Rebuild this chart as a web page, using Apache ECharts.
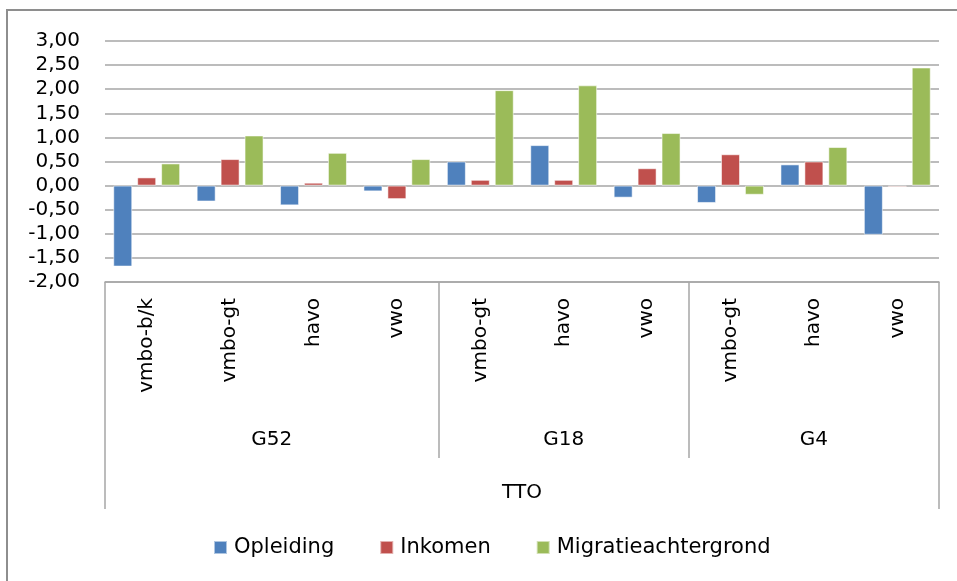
<!DOCTYPE html>
<html>
<head>
<meta charset="utf-8">
<script src="https://cdn.jsdelivr.net/npm/echarts@6/dist/echarts.min.js"></script>
<style>
  html, body { margin: 0; padding: 0; background: #fff; }
  #frame { position: absolute; left: 6px; top: 9px; width: 1200px; height: 800px;
    border-left: 2px solid #8e8e8e; border-top: 2px solid #8e8e8e; }
  #chart { position: absolute; left: 0; top: 0; width: 957px; height: 581px; }
</style>
</head>
<body>
<div id="frame"></div>
<div id="chart"></div>
<script>
const categories = ['vmbo-b/k', 'vmbo-gt', 'havo', 'vwo', 'vmbo-gt', 'havo', 'vwo', 'vmbo-gt', 'havo', 'vwo']
const groups = ['G52', 'G18', 'G4']
const groupSizes = [4, 3, 3]
const topGroup = 'TTO'
const opleiding = [-1.68, -0.33, -0.41, -0.12, 0.50, 0.84, -0.25, -0.36, 0.44, -1.02]
const inkomen = [0.17, 0.55, 0.06, -0.28, 0.12, 0.12, 0.36, 0.65, 0.50, -0.03]
const migratie = [0.46, 1.04, 0.68, 0.55, 1.98, 2.08, 1.09, -0.19, 0.80, 2.45]

const font = 'DejaVu Sans'
const lineColor = '#a6a6a6'

// group boundaries and centres along the category axis (0..n)
const bounds = [0]
groupSizes.forEach((s) => bounds.push(bounds[bounds.length - 1] + s))
const inner = bounds.slice(1, -1)
const centres = groups.map((g, i) => (bounds[i] + bounds[i + 1]) / 2)

const chart = echarts.init(document.getElementById('chart'))

function bar(name, data, color) {
  return {
    name,
    type: 'bar',
    data,
    barWidth: 19,
    barGap: '26%',
    itemStyle: { color, borderColor: 'rgba(255,255,255,0.55)', borderWidth: 1 },
  }
}

chart.setOption({
  animation: false,
  grid: { left: 105, right: 18, top: 41, bottom: 299 },
  legend: {
    bottom: 18,
    left: 208,
    icon: 'rect',
    itemWidth: 13,
    itemHeight: 13,
    itemGap: 45,
    textStyle: { fontFamily: font, fontSize: 21, color: '#000', padding: [0, 0, 0, 2] },
    data: ['Opleiding', 'Inkomen', 'Migratieachtergrond'],
  },
  xAxis: [
    {
      type: 'category',
      data: categories,
      position: 'bottom',
      axisLine: { onZero: false, lineStyle: { color: lineColor, width: 1.5 } },
      // dividers between the groups
      axisTick: {
        show: true,
        interval: (i) => inner.includes(i),
        length: 176,
        lineStyle: { color: lineColor, width: 1.5 },
      },
      axisLabel: {
        interval: 0,
        rotate: 90,
        margin: 16,
        fontFamily: font,
        fontSize: 20,
        color: '#000',
      },
    },
    {
      type: 'value',
      min: 0,
      max: categories.length,
      position: 'bottom',
      axisLine: { show: false },
      splitLine: { show: false },
      axisTick: { show: false },
      axisLabel: {
        customValues: centres,
        margin: 148,
        fontFamily: font,
        fontSize: 20,
        color: '#000',
        formatter: (v) => groups[centres.indexOf(v)] || '',
      },
    },
    {
      type: 'value',
      min: 0,
      max: categories.length,
      position: 'bottom',
      axisLine: { show: false },
      splitLine: { show: false },
      axisTick: {
        show: true,
        customValues: [0, categories.length],
        length: 227,
        lineStyle: { color: lineColor, width: 1.5 },
      },
      axisLabel: {
        customValues: [categories.length / 2],
        margin: 201,
        fontFamily: font,
        fontSize: 20,
        color: '#000',
        formatter: () => topGroup,
      },
    },
  ],
  yAxis: {
    type: 'value',
    min: -2,
    max: 3,
    interval: 0.5,
    axisLine: { show: false },
    axisTick: { show: false },
    splitLine: { lineStyle: { color: lineColor, width: 1.5 } },
    axisLabel: {
      margin: 25,
      fontFamily: font,
      fontSize: 20,
      color: '#000',
      formatter: (v) => v.toFixed(2).replace('.', ','),
    },
  },
  series: [
    bar('Opleiding', opleiding, '#4f81bd'),
    bar('Inkomen', inkomen, '#c0504d'),
    bar('Migratieachtergrond', migratie, '#9bbb59'),
  ],
})
</script>
</body>
</html>
